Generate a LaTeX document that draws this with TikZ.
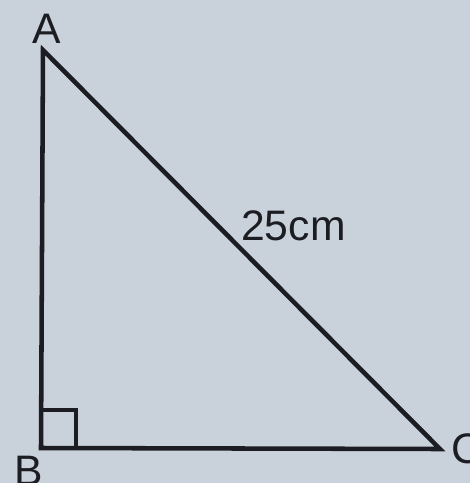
\documentclass[tikz,border=0pt]{standalone}
\usepackage{fontspec}
\setmainfont{Liberation Sans}
\definecolor{paper}{RGB}{201,209,219}
\definecolor{ink}{RGB}{28,29,34}
\begin{document}
\begin{tikzpicture}[x=0.75pt,y=-0.75pt,
  edge/.style={draw=ink,line width=3.4pt,line join=miter,line cap=butt},
  lbl/.style={text=ink,font=\fontsize{32}{36}\selectfont,inner sep=0pt}]
\fill[paper] (0,0) rectangle (470,483);
\useasboundingbox (0,0) rectangle (470,483);
\coordinate (A) at (43,50);
\coordinate (B) at (41,448);
\coordinate (C) at (440,449);
\draw[edge] (A) -- (B) -- (C) -- cycle;
\coordinate (s1) at (41,410);
\coordinate (s2) at (76,410);
\coordinate (s3) at (76,448);
\draw[edge] (s1) -- (s2) -- (s3);
\node[lbl,anchor=base] (la) at (46.5,43) {A};
\node[lbl,anchor=base] (lb) at (29,485) {B};
\node[lbl,anchor=base west] (lc) at (451,463) {C};
\node[lbl,anchor=base west] (lh) at (241,240) {25cm};
\end{tikzpicture}
\end{document}
